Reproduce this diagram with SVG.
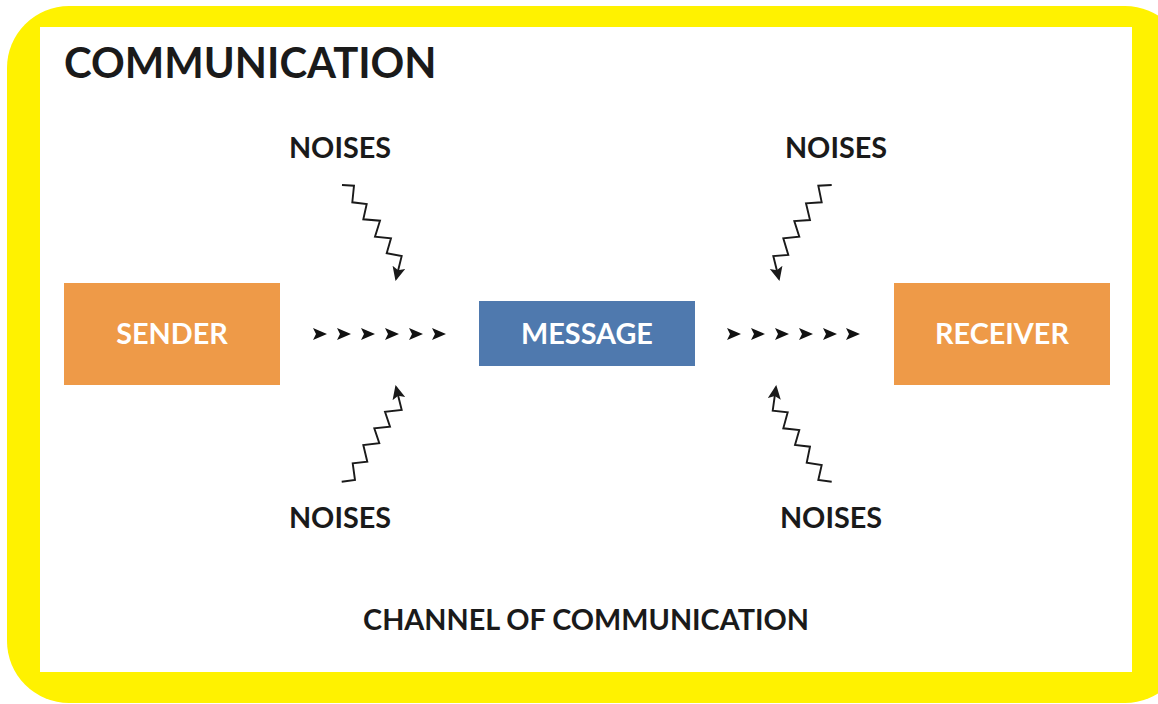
<svg xmlns="http://www.w3.org/2000/svg" width="1158" height="704" viewBox="0 0 1158 704">
<style>
.t{font-family:Lato,"Open Sans","Liberation Sans",sans-serif;font-weight:bold;fill:#1a1a1a}
.w{font-family:Lato,"Open Sans","Liberation Sans",sans-serif;font-weight:bold;fill:#ffffff;font-size:28.8px}
.n{font-size:28.8px}
.z{fill:none;stroke:#1a1a1a;stroke-width:1.9;stroke-linejoin:miter;marker-end:url(#ah)}
.o{fill:#EE9A48}
.b{fill:#4F79AE}
</style>
<defs>
<marker id="ah" markerUnits="userSpaceOnUse" markerWidth="16" markerHeight="16" refX="12" refY="6.5" orient="auto">
<path d="M0,0 L14,6.5 L0,13 L3,6.5 z" fill="#1a1a1a"/>
</marker>
<path id="chev" d="M0,-6 L14,0 L0,6 L3,0 z" fill="#111"/>
</defs>
<rect x="0" y="0" width="1158" height="704" fill="#ffffff"/>
<rect x="7" y="6" width="1180" height="697" rx="62" ry="62" fill="#FFF200"/>
<rect x="40" y="27" width="1092" height="645" fill="#ffffff"/>
<text class="t" x="64" y="78" font-size="41.8">COMMUNICATION</text>
<g id="sender"><rect class="o" x="64" y="283" width="216" height="102"/><text class="w" x="172" y="344" text-anchor="middle">SENDER</text></g>
<g id="message"><rect class="b" x="479" y="301" width="216" height="65"/><text class="w" x="587" y="344" text-anchor="middle">MESSAGE</text></g>
<g id="receiver"><rect class="o" x="894" y="283" width="216" height="102"/><text class="w" x="1002" y="344" text-anchor="middle">RECEIVER</text></g>
<g id="noise-tl"><text class="t n" x="340" y="158" text-anchor="middle">NOISES</text></g>
<g id="noise-tr"><text class="t n" x="836" y="158" text-anchor="middle">NOISES</text></g>
<g id="noise-bl"><text class="t n" x="340" y="528" text-anchor="middle">NOISES</text></g>
<g id="noise-br"><text class="t n" x="831" y="528" text-anchor="middle">NOISES</text></g>
<g id="channel"><text class="t" x="586" y="630" font-size="28.8" text-anchor="middle">CHANNEL OF COMMUNICATION</text></g>
<g id="connectors">
<g id="flow-left">
<use href="#chev" x="313" y="334"/><use href="#chev" x="337" y="334"/><use href="#chev" x="361" y="334"/><use href="#chev" x="385" y="334"/><use href="#chev" x="409" y="334"/><use href="#chev" x="432" y="334"/>
</g>
<g id="flow-right">
<use href="#chev" x="727" y="334"/><use href="#chev" x="751" y="334"/><use href="#chev" x="775" y="334"/><use href="#chev" x="799" y="334"/><use href="#chev" x="823" y="334"/><use href="#chev" x="846" y="334"/>
</g>
<path class="z" d="M342,185 L354,185.7 L352.3,202.3 L366.7,204 L363.3,219.3 L380,220.7 L375,236.7 L391,238.3 L386.7,253.3 L401.7,256 L396,279"/>
<path class="z" d="M831.7,185 L818.3,185.7 L821.7,202.3 L806,203.3 L810,220 L794.3,221 L799.3,236.7 L783.3,238.3 L788.3,255 L773.3,256 L779,279"/>
<path class="z" d="M341.7,481.7 L355,480 L352.7,463.3 L367.3,461.7 L363.3,445 L379.3,443.3 L374.3,428.3 L390,426.7 L385,411.7 L401.7,410 L396,387"/>
<path class="z" d="M831.7,481.7 L818.3,480 L821.7,465 L806.7,462.7 L810,446.7 L795,445 L799.3,430 L783.3,428.3 L787.7,412.3 L772.7,410.7 L776,387"/>
</g>
</svg>
